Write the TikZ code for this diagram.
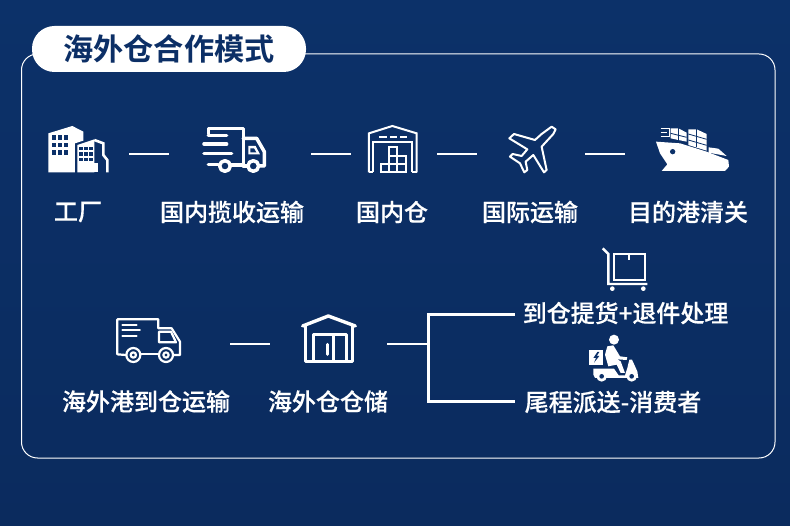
\documentclass[tikz,border=0pt]{standalone}
\usepackage{fontspec}
\newfontfamily\cjk[FakeBold=0.3]{Noto Sans CJK SC Medium}
\newfontfamily\cjkbold{Noto Sans CJK SC Bold}
\definecolor{bgtop}{HTML}{0C3169}
\definecolor{bgbottom}{HTML}{0B2B5E}
\definecolor{navy}{HTML}{0C2F66}
\tikzset{
    iconbox/.style={inner sep=0pt, minimum height=50pt},
    caption/.style={text=white, inner sep=0pt, font=\cjk\fontsize{24}{24}\selectfont},
    joint/.style={white, line width=2pt},
    zoomed/.style={x=0.3333pt, y=-0.3333pt},
    solid line/.style={draw=white, line width=3.5pt, line join=round, line cap=round},
    thin line/.style={draw=white, line width=2pt, line join=miter},
    cutout/.style={fill=bgtop}
}
\begin{document}
\begin{tikzpicture}
[
    x=1pt, y=-1pt
]
    \useasboundingbox (0, 0) rectangle (790, 526);
    \shade [top color=bgtop, bottom color=bgbottom] (0, 0) rectangle (790, 526);

    \draw [white, line width=1pt, rounded corners=16pt] (21.5, 54) rectangle (775, 458);
    \node (title) [fill=white, rounded corners=22.5pt, minimum width=274pt, minimum height=46pt, inner sep=0pt,
        text=navy, font=\cjkbold\fontsize{30.2}{30}\selectfont] at (169, 49) {海外仓合作模式};

    \node (factory) [iconbox, minimum width=102pt] at (78, 154) {};
    \node (truck) [iconbox, minimum width=142pt] at (240, 154) {};
    \node (depot) [iconbox, minimum width=86pt] at (394, 154) {};
    \node (plane) [iconbox, minimum width=108pt] at (531, 154) {};
    \node (ship) [iconbox, minimum width=136pt] at (693, 154) {};
    \node (van) [iconbox, minimum width=164pt] at (148, 344) {};
    \node (store) [iconbox, minimum width=117pt] at (328.5, 344) {};

    \node (factorytext) [caption] at (78, 212) {工厂};
    \node (trucktext) [caption] at (232, 212) {国内揽收运输};
    \node (depottext) [caption] at (392, 212) {国内仓};
    \node (planetext) [caption] at (530, 212) {国际运输};
    \node (shiptext) [caption] at (688, 212) {目的港清关};
    \node (vantext) [caption] at (146, 401.5) {海外港到仓运输};
    \node (storetext) [caption] at (328, 401.5) {海外仓仓储};
    \node (pickup) [caption, anchor=west, inner xsep=7.5pt, text depth=6pt] at (515, 315) {到仓提货+退件处理};
    \node (lastmile) [caption, anchor=west, inner xsep=9.5pt] at (515, 402) {尾程派送-消费者};
    \coordinate (branch) at (428, 344);

    \draw [joint] (factory) -- (truck);
    \draw [joint] (truck) -- (depot);
    \draw [joint] (depot) -- (plane);
    \draw [joint] (plane) -- (ship);
    \draw [joint] (van) -- (store);
    \draw [joint] (store) -- (branch);
    \draw [joint, line width=3pt] (branch) |- (pickup.west);
    \draw [joint, line width=3pt] (branch) |- (lastmile.west);

    \begin{scope}[shift={(30, 110)}, zoomed]
        \fill [white] (55, 187) -- (55, 70) -- (127, 48) -- (160, 65) -- (160, 92) -- (135, 100) -- (135, 187) -- cycle;
        \foreach \x in {65, 83, 101}
            \foreach \y in {76, 98, 120}
                \fill [cutout] (\x, \y) rectangle ++(13, 14);
        \fill [white] (142, 187) -- (142, 105) -- (193, 88) -- (193, 187) -- cycle;
        \foreach \x in {148, 163, 178}
            \foreach \y in {110, 127, 143}
                \fill [cutout] (\x, \y) rectangle ++(10, 11);
        \draw [thin line, line width=2.6pt] (193, 90) -- (220, 100) -- (220, 135) -- (232, 150) -- (232, 187);
        \fill [white] (193, 158) -- (205, 158) -- (205, 187) -- (193, 187) -- cycle;

        \draw [solid line] (535, 72) -- (535, 55) -- (640, 55) -- (640, 165) -- (605, 165);
        \draw [solid line] (535, 76) -- (590, 76);
        \draw [solid line] (522, 102) -- (590, 102);
        \draw [solid line] (522, 130) -- (605, 130);
        \draw [solid line] (535, 163) -- (565, 163);
        \draw [solid line] (640, 85) -- (680, 85) -- (703, 125) -- (703, 168) -- (690, 168);
        \draw [solid line] (640, 168) -- (650, 168);
        \draw [solid line] (585, 168) circle (16);
        \draw [solid line] (670, 168) circle (16);
        \fill [white] (655, 108) -- (677, 108) -- (690, 133) -- (655, 133) -- cycle;
        \fill [cutout] (661, 115) -- (672, 115) -- (679, 127) -- (661, 127) -- cycle;
    \end{scope}

    \begin{scope}[shift={(290, 110)}, zoomed]
        \draw [thin line] (237, 187) -- (237, 70) -- (307, 48) -- (380, 70) -- (380, 187);
        \draw [thin line] (250, 187) -- (250, 95) -- (367, 95) -- (367, 187);
        \draw [thin line] (237, 187) -- (250, 187);
        \draw [thin line] (367, 187) -- (380, 187);
        \draw [thin line, dash pattern=on 7.5pt off 3pt] (268, 80) -- (350, 80);
        \draw [thin line] (272, 163) rectangle (347, 187);
        \draw [thin line] (297, 137) rectangle (347, 163);
        \draw [thin line] (297, 112) rectangle (322, 137);
        \draw [thin line] (297, 163) -- (297, 187);
        \draw [thin line] (322, 137) -- (322, 187);
        \draw [thin line, line join=round]
            (797, 58) -- (785, 50) -- (755, 72) -- (735, 90) -- (672, 72) -- (658, 85) -- (712, 118)
            -- (695, 138) -- (668, 132) -- (660, 140) -- (690, 160) -- (703, 187) -- (712, 180) -- (707, 155)
            -- (730, 135) -- (762, 187) -- (770, 180) -- (755, 110) -- (790, 72) -- cycle;
    \end{scope}

    \begin{scope}[shift={(570, 110)}, zoomed]
        \fill [white] (258, 95) -- (330, 100) -- (410, 125) -- (475, 150) -- (477, 170) -- (465, 183)
            -- (275, 183) -- (292, 163) -- (270, 130) -- cycle;
        \fill [cutout] (308, 125) circle (8);
        \draw [white, line width=1.6pt] (272, 56) -- (298, 56) -- (298, 80);
        \draw [white, line width=1.6pt] (272, 68) -- (292, 68);
        \draw [white, line width=1.6pt] (272, 80) -- (298, 80);
        \fill [white] (302, 55) -- (325, 55) -- (350, 68) -- (350, 95) -- (325, 90) -- (302, 85) -- cycle;
        \fill [white] (355, 58) -- (380, 58) -- (410, 72) -- (410, 122) -- (355, 105) -- cycle;
        \draw [draw=bgtop, line width=0.8pt] (325, 55) -- (325, 92);
        \draw [draw=bgtop, line width=0.8pt] (302, 70) -- (350, 82);
        \draw [draw=bgtop, line width=0.8pt] (380, 58) -- (380, 112);
        \draw [draw=bgtop, line width=0.8pt] (355, 72) -- (410, 88);
        \draw [draw=bgtop, line width=0.8pt] (355, 90) -- (410, 106);
        \fill [white] (416, 112) -- (445, 116) -- (470, 138) -- (416, 128) -- cycle;
    \end{scope}

    \begin{scope}[shift={(100, 300)}, zoomed]
        \draw [solid line, line width=2.2pt] (78, 165) -- (52, 163) -- (52, 58) -- (175, 58) -- (175, 85) -- (215, 85)
            -- (240, 125) -- (240, 165) -- (222, 165);
        \draw [solid line, line width=2.2pt] (122, 163) -- (176, 163);
        \draw [solid line, line width=2.2pt] (177, 95) -- (213, 95) -- (228, 127) -- (177, 127) -- cycle;
        \draw [solid line, line width=1.8pt] (67, 75) -- (110, 75);
        \draw [solid line, line width=1.8pt] (67, 90) -- (120, 90);
        \draw [solid line, line width=1.8pt] (67, 107) -- (110, 107);
        \foreach \x in {100, 198} {
            \draw [solid line, line width=2.2pt] (\x, 165) circle (21);
            \draw [solid line, line width=2.2pt] (\x, 165) circle (8);
        }
        \draw [solid line, line width=3.4pt] (608, 78) -- (685, 48) -- (766, 78);
        \draw [solid line, line width=3pt] (618, 75) -- (618, 185) -- (757, 185) -- (757, 75);
        \draw [solid line, line width=2.6pt] (640, 185) -- (640, 103) -- (740, 103) -- (740, 185);
        \draw [solid line, line width=2.6pt] (700, 103) -- (700, 185);
        \draw [solid line, line width=3pt] (684, 133) -- (684, 163);
    \end{scope}

    \begin{scope}[shift={(570, 240)}, zoomed]
        \draw [thin line, line width=2.4pt] (98, 25) -- (115, 42) -- (115, 132) -- (232, 132);
        \draw [thin line, line width=2.2pt] (132, 42) rectangle (225, 120);
        \draw [thin line, line width=2.2pt] (177, 42) -- (177, 60);
        \fill [white] (127, 146) circle (7);
        \fill [white] (220, 146) circle (7);
    \end{scope}

    \begin{scope}[shift={(570, 328)}, zoomed]
        \fill [white] (57, 65) rectangle (100, 110);
        \fill [cutout] (82, 72) -- (70, 90) -- (78, 90) -- (72, 104) -- (88, 84) -- (80, 84) -- (88, 72) -- cycle;
        \fill [white] (132, 35) circle (15);
        \fill [white] (112, 55) -- (130, 52) -- (150, 85) -- (172, 88) -- (170, 96) -- (142, 94) -- (152, 100)
            -- (165, 135) -- (152, 135) -- (140, 110) -- (115, 115) -- (105, 80) -- cycle;
        \fill [white] (70, 140) -- (70, 122) -- (132, 122) -- (146, 142) -- (165, 142) -- (172, 120) -- (178, 95)
            -- (186, 95) -- (202, 130) -- (205, 150) -- (75, 150) -- cycle;
        \fill [white] (95, 145) circle (16);
        \fill [cutout] (95, 145) circle (7);
        \fill [white] (185, 145) circle (16);
        \fill [cutout] (185, 145) circle (7);
    \end{scope}
\end{tikzpicture}
\end{document}
